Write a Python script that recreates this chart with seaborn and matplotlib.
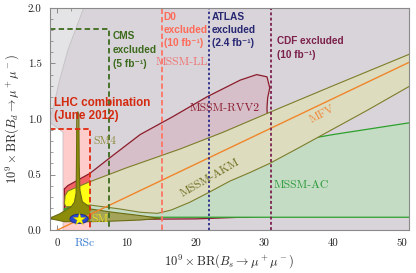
import matplotlib
matplotlib.use("Agg")
import matplotlib.pyplot as plt
import matplotlib.patches as mpatches
from matplotlib.ticker import MultipleLocator
import seaborn as sns

# axis ranges and ticks
x_lim = (-1.1, 51)
y_lim = (0, 2)
x_ticks = [0, 10, 20, 30, 40, 50]
x_ticklabels = ["0", "10", "20", "30", "40", "50"]
y_ticks = [0.0, 0.5, 1.0, 1.5, 2.0]
y_ticklabels = ["0.0", "0.5", "1.0", "1.5", "2.0"]

# experimental limits (10^9 x BR)
lhc_bs, lhc_bd = 4.7, 0.91
cms_bs, cms_bd = 7.45, 1.81
d0_bs = 15.1
atlas_bs = 22.0
cdf_bs = 31.0

# model regions
ll_x = [0.8, 0.8, -1.3, -0.7, 0.3, 1.5, 2.7, 4.1, 53, 53]
ll_y = [-0.1, 0.88, 0.98, 1.08, 1.35, 1.62, 1.82, 2.05, 2.05, -0.1]

rvv2_x = [1.0, 1.5, 4.7, 8.0, 12.0, 16.7, 21.7, 26.5, 28.9, 30.4, 30.8, 30.5, 30.4, 30.5,
          31.0, 31.8, 35.2, 42.0, 43.3, 43.4, 42.9, 41.0, 37.6, 34.2, 31.0, 20.0, 5.0, 1.3, 1.0]
rvv2_y = [0.37, 0.40, 0.51, 0.67, 0.86, 1.02, 1.20, 1.35, 1.40, 1.38, 1.28, 1.19, 1.10, 0.95,
          0.87, 0.81, 0.75, 0.66, 0.61, 0.57, 0.50, 0.36, 0.25, 0.16, 0.125, 0.10, 0.095, 0.10, 0.14]

ac_x = [1.0, 2.5, 4.7, 7.0, 9.5, 13.0, 16.3, 21.6, 28.9, 32.3, 40.0, 51.5, 51.5, 1.0]
ac_y = [0.19, 0.22, 0.27, 0.33, 0.40, 0.48, 0.54, 0.63, 0.72, 0.775, 0.86, 0.97, 0.115, 0.115]

sm4_x = [1.0, 1.1, 1.5, 2.2, 4.7, 10.0, 17.8, 24.0, 32.3, 40.0, 51.5, 51.5, 45.0, 40.0, 35.0,
         30.8, 28.0, 25.0, 22.0, 19.2, 16.5, 14.5, 12.0, 9.0, 4.7, 2.0, 1.2]
sm4_y = [0.24, 0.31, 0.35, 0.37, 0.435, 0.56, 0.73, 0.88, 1.10, 1.30, 1.595, 1.31, 1.08, 0.91, 0.74,
         0.60, 0.52, 0.44, 0.34, 0.25, 0.18, 0.15, 0.16, 0.19, 0.225, 0.21, 0.21]

akm_x = [-0.86, 0.3, 1.07, 2.0, 2.45, 2.7, 2.75, 2.8, 2.95, 3.1, 3.15, 3.25, 3.6, 4.6, 4.7, 8.0,
         12.0, 14.9, 12.0, 8.0, 4.7, 1.0, -0.86]
akm_y = [0.114, 0.145, 0.174, 0.21, 0.25, 0.33, 0.6, 1.04, 1.065, 1.04, 0.6, 0.36, 0.255, 0.21,
         0.19, 0.16, 0.13, 0.105, 0.09, 0.08, 0.075, 0.075, 0.10]

mfv_x = [-1.1, 51.0]
mfv_y = [-0.0326, 1.51]

rsc_center = (3.13, 0.10)
rsc_width, rsc_height = 2.65, 0.085
sm_point = (3.13, 0.10)

sns.set_style("ticks")
plt.rcParams["mathtext.fontset"] = "cm"
plt.rcParams["font.family"] = ["Liberation Sans", "DejaVu Sans"]

fig, ax = plt.subplots(figsize=(4.16, 2.73), dpi=100)
fig.subplots_adjust(left=0.120, right=0.983, bottom=0.1575, top=0.9707)
ax.set_xlim(x_lim)
ax.set_ylim(y_lim)
ax.set_facecolor("#e4e4e6")

# everything outside the LHC box is greyed out
x0, x1 = x_lim
y0, y1 = y_lim
inside = mpatches.Polygon([(x0, y0), (lhc_bs, y0), (lhc_bs, lhc_bd), (x0, lhc_bd)],
                          closed=True, transform=ax.transData)
outside = mpatches.Polygon([(lhc_bs, y0), (x1, y0), (x1, y1), (x0, y1), (x0, lhc_bd), (lhc_bs, lhc_bd)],
                           closed=True, transform=ax.transData)


def region(xs, ys, c_in, c_out, edge, lw, z):
    for col, clip in ((c_in, inside), (c_out, outside)):
        poly = ax.fill(xs, ys, color=col, lw=0, zorder=z)[0]
        poly.set_clip_path(clip)
    if edge:
        sns.lineplot(x=xs + [xs[0]], y=ys + [ys[0]], sort=False, estimator=None,
                     color=edge, lw=lw, zorder=z + 0.1, ax=ax)


region([-5, 60, 60, -5], [-1, -1, 3, 3], "white", "#e4e4e6", None, 0, 0.5)
region(ll_x, ll_y, "#ffcccc", "#d9d4d9", "#c4c0c4", 0.6, 1)
region(rvv2_x, rvv2_y, "#f26464", "#d6bfc8", "#8c1c2c", 0.9, 2)
region(ac_x, ac_y, "#7fcf7f", "#c4dcc4", "#2ca02c", 0.9, 3)
region(sm4_x, sm4_y, "#ffff14", "#dddcbf", "#7d7d2a", 0.8, 4)
region(akm_x, akm_y, "#8c8c0a", "#a3a35a", "#6b6b10", 0.8, 5)

sns.lineplot(x=mfv_x, y=mfv_y, color="#f0852a", lw=1.0, zorder=6, ax=ax)

ell = mpatches.Ellipse(rsc_center, rsc_width, rsc_height, facecolor="#2a48d0",
                       edgecolor="#1a2a90", lw=0.6, zorder=7)
ax.add_patch(ell)
ax.scatter([sm_point[0]], [sm_point[1]], marker="*", s=85, color="#ffff00",
           edgecolor="#c8b400", linewidths=0.3, zorder=8)

# exclusion limits
limits = [
    ([x_lim[0], lhc_bs, lhc_bs], [lhc_bd, lhc_bd, 0], "#e02a10", (0, (3, 1.6))),
    ([x_lim[0], cms_bs, cms_bs], [cms_bd, cms_bd, 0], "#3d6b1e", (0, (3, 1.8))),
    ([d0_bs, d0_bs], [0, 2], "#ff7464", (0, (3, 1.6))),
    ([atlas_bs, atlas_bs], [0, 2], "#2a2a8a", (0, (1.3, 1.3))),
    ([cdf_bs, cdf_bs], [0, 2], "#7b2050", (0, (1.6, 1.3))),
]
for xs, ys, col, ls in limits:
    sns.lineplot(x=xs, y=ys, sort=False, estimator=None, color=col, lw=1.3, zorder=9, ax=ax)
    ax.lines[-1].set_linestyle(ls)

# experiment labels
bold = dict(fontweight="bold", ha="left", va="center", zorder=10)
ax.text(-0.5, 1.085, "LHC combination\n(June 2012)", color="#d42a10", fontsize=8.4, linespacing=1.2, **bold)
ax.text(8.0, 1.625, "CMS\nexcluded\n(5 fb⁻¹)", color="#3d6b1e", fontsize=7.3, linespacing=1.5, **bold)
ax.text(15.4, 1.80, "D0\nexcluded\n(10 fb⁻¹)", color="#ff6a58", fontsize=7.3, linespacing=1.4, **bold)
ax.text(22.4, 1.80, "ATLAS\nexcluded\n(2.4 fb⁻¹)", color="#262673", fontsize=7.3, linespacing=1.4, **bold)
ax.text(31.8, 1.64, "CDF excluded\n(10 fb⁻¹)", color="#7b1f4b", fontsize=7.2, linespacing=1.4, **bold)

# model labels
cm = dict(fontfamily="cmr10", zorder=10)
ax.text(14.2, 1.51, "MSSM-LL", color="#f07070", fontsize=8.4, ha="left", va="center", **cm)
ax.text(19.2, 1.10, "MSSM-RVV2", color="#8c1c30", fontsize=8.4, ha="left", va="center", **cm)
ax.text(38.4, 1.04, "MFV", color="#f08a3a", fontsize=8.4, ha="center", va="center", rotation=28, **cm)
ax.text(6.9, 0.80, "SM4", color="#8a8a3a", fontsize=8.4, ha="center", va="center", **cm)
ax.text(22.1, 0.47, "MSSM-AKM", color="#6e6e20", fontsize=8.4, ha="center", va="center", rotation=30, **cm)
ax.text(31.4, 0.405, "MSSM-AC", color="#2a9a3a", fontsize=8.4, ha="left", va="center", **cm)
ax.text(4.85, 0.10, "SM", color="#eee020", fontsize=8.4, ha="left", va="center", **cm)
ax.text(3.98, -0.117, "RSc", color="#3b7dd0", fontsize=8.4, ha="center", va="center", clip_on=False, **cm)

ax.set_xticks(x_ticks, x_ticklabels, fontfamily="cmr10", fontsize=7.8)
ax.set_yticks(y_ticks, y_ticklabels, fontfamily="cmr10", fontsize=7.8)
ax.xaxis.set_minor_locator(MultipleLocator(2))
ax.yaxis.set_minor_locator(MultipleLocator(0.1))
ax.tick_params(which="both", direction="in", top=True, right=True, color="#7a7a7a")
ax.tick_params(which="major", length=3.5, width=0.6, pad=6, labelcolor="#222222")
ax.tick_params(which="minor", length=2, width=0.5)
for s in ax.spines.values():
    s.set_color("#8a8a8a")
    s.set_linewidth(0.8)
    s.set_zorder(11)

ax.set_xlabel(r"$10^9 \times \mathrm{BR}(B_s \to \mu^+\mu^-)$", fontsize=9, labelpad=3)
ax.set_ylabel(r"$10^9 \times \mathrm{BR}(B_d \to \mu^+\mu^-)$", fontsize=9, labelpad=5)

fig.savefig("out.png", dpi=100)
